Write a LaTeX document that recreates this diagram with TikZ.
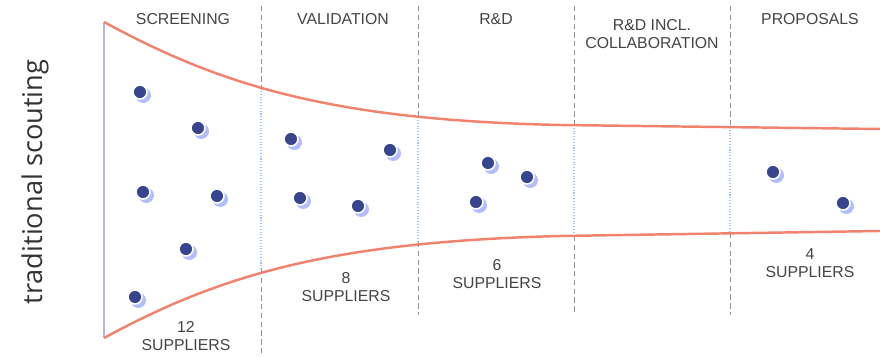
\documentclass[tikz,border=0pt]{standalone}
\usepackage{fontspec}
\setmainfont{Liberation Sans}
\newfontfamily\scoutfont{Open Sans}
\usetikzlibrary{shadows}

\definecolor{funnel}{HTML}{F0826E}
\definecolor{edge}{HTML}{B4B4F0}
\definecolor{navy}{HTML}{36458E}
\definecolor{glow}{HTML}{A8B6FF}
\definecolor{label}{HTML}{444444}
\definecolor{gridgray}{HTML}{8C8CA0}
\definecolor{gridblue}{HTML}{9CC8F0}

\begin{document}
\begin{tikzpicture}[
  x=0.02cm, y=-0.02cm,
  funnelline/.style={draw=funnel, line width=1.4pt},
  phase/.style={color=label, font=\fontsize{9}{10.5}\selectfont, align=center},
  count/.style={color=label, font=\fontsize{9}{10.5}\selectfont, align=center},
  outer/.style={draw=gridgray, densely dashed, line width=0.5pt},
  inner/.style={draw=gridblue, densely dotted, line width=0.6pt},
  supplier/.style={circle, fill=navy, draw=white, line width=0.9pt, minimum size=0.28cm, inner sep=0pt,
    drop shadow={shadow xshift=0.06cm, shadow yshift=-0.06cm, shadow scale=1.1, fill=glow, opacity=0.9}}
]
%canvas
\useasboundingbox (0,0) rectangle (880,357);

%phase dividers: x / upper crossing / lower crossing / end
\foreach \x/\ya/\yb/\yend in {261/91/269/357, 418/120/242/315, 574/125/236/315, 730/127/233/315}{
  \draw[outer] (\x,6) -- (\x,\ya);
  \draw[inner] (\x,\ya) -- (\x,\yb);
  \draw[outer] (\x,\yb) -- (\x,\yend);
}

%funnel
\coordinate (topstart) at (104,22);
\coordinate (botstart) at (104,338);
\coordinate (topend) at (880,129);
\coordinate (botend) at (880,231);
\draw[draw=edge, line width=1pt] (topstart) -- (botstart);
\draw[funnelline] (topstart) .. controls (220,85) and (330,120) .. (560,125) -- (topend);
\draw[funnelline] (botstart) .. controls (220,275) and (330,242) .. (560,236) -- (botend);

%suppliers
\foreach \x/\y [count=\i] in {140/92, 198/128, 143/192, 217/196, 186/249, 135/297,
    291/139, 390/150, 300/198, 358/206,
    488/163, 527/177, 476/202,
    773/172, 843/203}
  \node[supplier] (s\i) at (\x,\y) {};

%phase names
\node[phase] (screening) at (183,19) {SCREENING};
\node[phase] (validation) at (343,19) {VALIDATION};
\node[phase] (rnd) at (496,19) {R\&D};
\node[phase] (collab) at (652,34) {R\&D INCL.\\COLLABORATION};
\node[phase] (proposals) at (810,19) {PROPOSALS};

%supplier counts
\node[count] (c12) at (186,336) {12\\SUPPLIERS};
\node[count] (c8) at (346,287) {8\\SUPPLIERS};
\node[count] (c6) at (497,274) {6\\SUPPLIERS};
\node[count] (c4) at (810,263) {4\\SUPPLIERS};

%side label
\node[rotate=90, color=black!80, font=\scoutfont\fontsize{15.5}{18}\selectfont] (scouting) at (35,182) {traditional scouting};

\end{tikzpicture}
\end{document}
